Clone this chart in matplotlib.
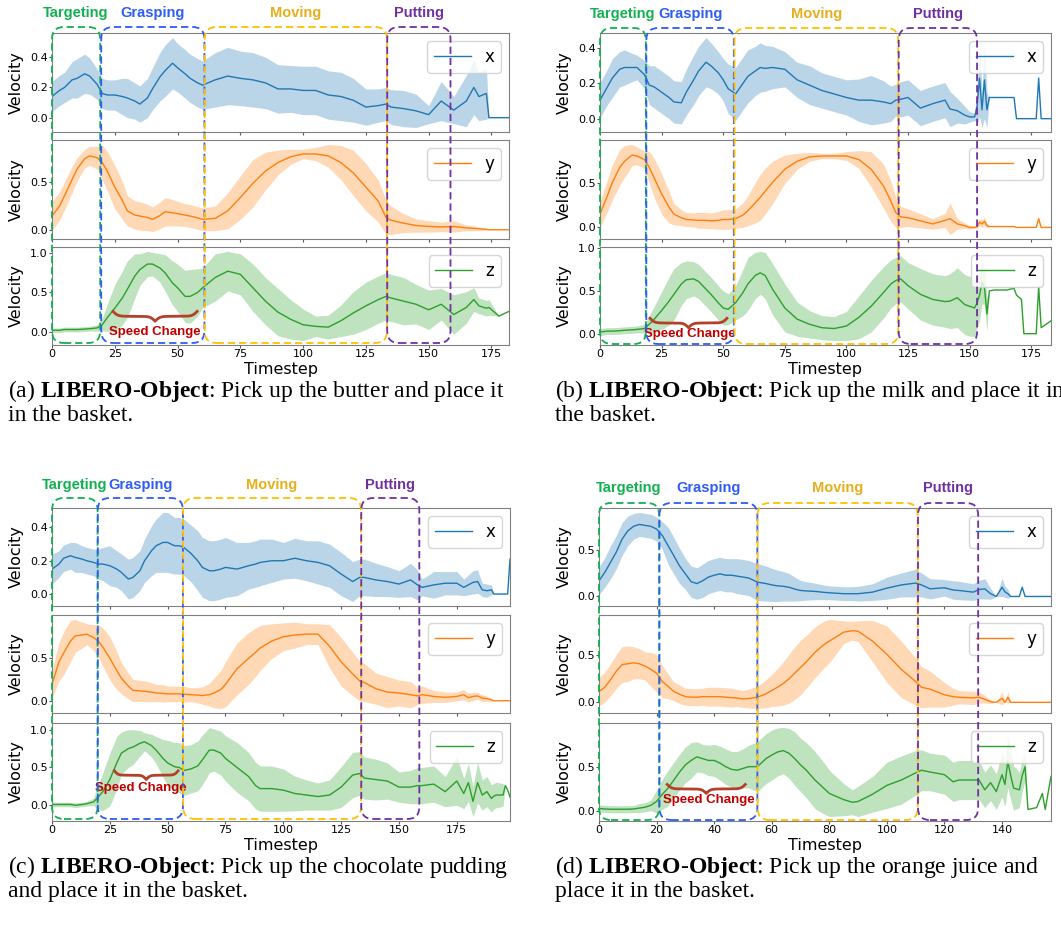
import matplotlib.pyplot as plt
import numpy as np
from matplotlib.patches import FancyBboxPatch

W, H = 1061, 930

# ---------------- (a) butter ----------------
t_a = [0, 3, 5, 8, 10, 13, 15, 18, 20, 22, 25, 28, 30, 33, 35, 38, 40, 43, 45, 48,
       50, 53, 55, 58, 60, 65, 70, 75, 80, 85, 90, 95, 100, 105, 110, 115, 120, 125, 130, 133,
       135, 140, 145, 150, 155, 160, 165, 168, 170, 173, 174, 178, 182]
x_mean_a = [0.14, 0.18, 0.20, 0.25, 0.26, 0.29, 0.275, 0.22, 0.16, 0.15,
            0.15, 0.14, 0.13, 0.11, 0.09, 0.13, 0.19, 0.27, 0.31, 0.36,
            0.33, 0.29, 0.26, 0.23, 0.215, 0.25, 0.275, 0.26, 0.25, 0.23,
            0.19, 0.19, 0.18, 0.18, 0.15, 0.14, 0.115, 0.07, 0.08, 0.09,
            0.07, 0.06, 0.045, 0.02, 0.11, 0.05, 0.11, 0.2, 0.14, 0.16, 0.0, 0.0, 0.0]
x_std_a = [0.1, 0.1, 0.1, 0.12, 0.13, 0.13, 0.12, 0.1, 0.1, 0.1,
           0.1, 0.12, 0.13, 0.12, 0.12, 0.13, 0.14, 0.16, 0.17, 0.17,
           0.16, 0.16, 0.16, 0.16, 0.16, 0.18, 0.19, 0.18, 0.18, 0.17,
           0.16, 0.155, 0.16, 0.16, 0.16, 0.16, 0.145, 0.12, 0.11, 0.11,
           0.115, 0.12, 0.11, 0.06, 0.13, 0.09, 0.17, 0.18, 0.16, 0.17, 0, 0, 0]
y_mean_a = [0.145, 0.25, 0.36, 0.53, 0.64, 0.75, 0.78, 0.76, 0.71, 0.62,
            0.45, 0.31, 0.2, 0.155, 0.145, 0.13, 0.11, 0.15, 0.19, 0.18,
            0.17, 0.155, 0.145, 0.125, 0.11, 0.12, 0.2, 0.34, 0.49, 0.62,
            0.71, 0.77, 0.8, 0.8, 0.78, 0.71, 0.6, 0.45, 0.3, 0.13,
            0.1, 0.07, 0.045, 0.035, 0.03, 0.035, 0.02, 0.015, 0.01, 0.005, 0, 0, 0]
y_std_a = [0.15, 0.15, 0.15, 0.14, 0.12, 0.1, 0.1, 0.12, 0.18, 0.21,
           0.23, 0.2, 0.16, 0.15, 0.15, 0.14, 0.13, 0.14, 0.15, 0.14,
           0.13, 0.12, 0.12, 0.12, 0.12, 0.13, 0.19, 0.23, 0.25, 0.2,
           0.13, 0.08, 0.05, 0.07, 0.12, 0.18, 0.24, 0.25, 0.22, 0.18,
           0.15, 0.1, 0.07, 0.06, 0.05, 0.06, 0.03, 0.025, 0.02, 0.01, 0, 0, 0]
z_mean_a = [0.02, 0.02, 0.03, 0.03, 0.03, 0.035, 0.04, 0.05, 0.09, 0.18,
            0.3, 0.43, 0.54, 0.71, 0.79, 0.86, 0.86, 0.81, 0.75, 0.62,
            0.56, 0.45, 0.45, 0.5, 0.56, 0.69, 0.77, 0.73, 0.56, 0.39,
            0.25, 0.16, 0.09, 0.07, 0.06, 0.14, 0.24, 0.33, 0.41, 0.45,
            0.43, 0.39, 0.35, 0.28, 0.35, 0.22, 0.31, 0.41, 0.33, 0.3, 0.31, 0.2, 0.26]
z_std_a = [0.03, 0.03, 0.03, 0.03, 0.03, 0.03, 0.03, 0.04, 0.08, 0.17,
           0.3, 0.34, 0.36, 0.28, 0.2, 0.16, 0.15, 0.18, 0.23, 0.28,
           0.3, 0.33, 0.34, 0.3, 0.25, 0.3, 0.25, 0.26, 0.3, 0.3,
           0.3, 0.25, 0.2, 0.13, 0.15, 0.2, 0.27, 0.3, 0.3, 0.3,
           0.3, 0.3, 0.25, 0.25, 0.2, 0.25, 0.2, 0.15, 0.1, 0.1, 0.1, 0, 0]
phases_a = [(0, 19.2), (19.6, 60.7), (60.8, 133.4), (133.5, 158.7)]

# ---------------- (b) milk ----------------
t_b = [0, 3, 5, 8, 10, 13, 15, 18, 20, 22, 25, 28, 30, 33, 35, 38, 40, 43, 45, 48,
       50, 52, 55, 58, 60, 63, 65, 67, 70, 75, 80, 85, 90, 95, 100, 105, 110, 115, 118, 120,
       122, 125, 130, 135, 140, 142, 145, 148, 150, 152, 153, 154, 155, 156, 157, 158, 160, 165, 168, 169,
       171, 172, 176, 177, 178, 179, 180, 183]
x_mean_b = [0.105, 0.18, 0.23, 0.28, 0.29, 0.29, 0.29, 0.25, 0.19, 0.18,
            0.15, 0.12, 0.095, 0.09, 0.15, 0.22, 0.27, 0.32, 0.3, 0.26,
            0.22, 0.17, 0.14, 0.2, 0.24, 0.27, 0.29, 0.285, 0.29, 0.28,
            0.22, 0.19, 0.16, 0.14, 0.12, 0.105, 0.105, 0.095, 0.085, 0.105,
            0.11, 0.12, 0.06, 0.085, 0.105, 0.055, 0.045, 0.02, 0.01, 0.01,
            0.07, 0.23, 0.05, 0.22, 0.05, 0.12, 0.12, 0.12, 0.12, 0.0,
            0.0, 0.0, 0.0, 0.0, 0.23, 0.0, 0.0, 0.0]
x_std_b = [0.1, 0.1, 0.11, 0.1, 0.1, 0.08, 0.07, 0.08, 0.11, 0.12,
           0.12, 0.12, 0.12, 0.12, 0.13, 0.14, 0.14, 0.14, 0.13, 0.12,
           0.12, 0.14, 0.15, 0.15, 0.15, 0.14, 0.14, 0.13, 0.12, 0.1,
           0.1, 0.11, 0.1, 0.1, 0.1, 0.12, 0.14, 0.12, 0.1, 0.09,
           0.1, 0.1, 0.1, 0.1, 0.1, 0.1, 0.07, 0.05, 0.03, 0.02,
           0.1, 0.22, 0.1, 0.22, 0.1, 0, 0, 0, 0, 0,
           0, 0, 0, 0, 0, 0, 0, 0]
y_mean_b = [0.15, 0.36, 0.51, 0.68, 0.75, 0.82, 0.81, 0.77, 0.68, 0.56,
            0.38, 0.23, 0.15, 0.11, 0.09, 0.085, 0.08, 0.08, 0.075, 0.08,
            0.09, 0.09, 0.1, 0.14, 0.19, 0.28, 0.34, 0.41, 0.51, 0.66,
            0.75, 0.8, 0.81, 0.81, 0.81, 0.77, 0.66, 0.47, 0.3, 0.17,
            0.12, 0.11, 0.075, 0.04, 0.08, 0.1, 0.04, 0.02, 0.0, 0.0,
            0.01, 0.06, 0.04, 0.07, 0.02, 0.01, 0.01, 0.01, 0.01, 0.0,
            0.0, 0.0, 0.0, 0.0, 0.1, 0.0, 0.0, 0.0]
y_std_b = [0.15, 0.18, 0.2, 0.2, 0.18, 0.12, 0.1, 0.1, 0.18, 0.22,
           0.23, 0.18, 0.12, 0.09, 0.08, 0.08, 0.09, 0.09, 0.09, 0.1,
           0.11, 0.11, 0.11, 0.14, 0.17, 0.23, 0.26, 0.26, 0.24, 0.16,
           0.09, 0.05, 0.03, 0.03, 0.05, 0.1, 0.2, 0.25, 0.23, 0.17,
           0.12, 0.1, 0.08, 0.06, 0.08, 0.18, 0.06, 0.03, 0.02, 0.01,
           0.02, 0.04, 0.04, 0.05, 0.03, 0, 0, 0, 0, 0,
           0, 0, 0, 0, 0, 0, 0, 0]
z_mean_b = [0.02, 0.03, 0.03, 0.035, 0.04, 0.045, 0.05, 0.06, 0.11, 0.17,
            0.27, 0.38, 0.46, 0.58, 0.63, 0.64, 0.61, 0.52, 0.46, 0.36,
            0.3, 0.285, 0.36, 0.48, 0.58, 0.68, 0.71, 0.68, 0.52, 0.3,
            0.17, 0.11, 0.07, 0.06, 0.09, 0.19, 0.32, 0.48, 0.58, 0.62,
            0.64, 0.56, 0.46, 0.4, 0.375, 0.38, 0.42, 0.34, 0.32, 0.3,
            0.36, 0.45, 0.6, 0.54, 0.23, 0.5, 0.51, 0.51, 0.53, 0.45,
            0.4, 0.0, 0.0, 0.0, 0.55, 0.07, 0.09, 0.15]
z_std_b = [0.04, 0.04, 0.04, 0.04, 0.04, 0.04, 0.04, 0.05, 0.1, 0.15,
           0.22, 0.28, 0.3, 0.25, 0.22, 0.2, 0.2, 0.2, 0.2, 0.2,
           0.2, 0.18, 0.2, 0.27, 0.31, 0.27, 0.25, 0.27, 0.3, 0.28,
           0.2, 0.16, 0.14, 0.14, 0.17, 0.25, 0.3, 0.3, 0.28, 0.27,
           0.27, 0.27, 0.3, 0.3, 0.3, 0.32, 0.35, 0.35, 0.35, 0.33,
           0.3, 0.3, 0.25, 0.2, 0.2, 0, 0, 0, 0, 0,
           0, 0, 0, 0, 0, 0, 0, 0]
phases_b = [(0, 18.6), (18.8, 54.3), (54.6, 121.0), (121.2, 153.0)]

# ---------------- (c) chocolate pudding ----------------
t_c = [0, 3, 5, 8, 10, 13, 15, 18, 20, 22, 25, 28, 30, 33, 35, 38, 40, 43, 45, 48,
       50, 53, 55, 57, 60, 63, 65, 68, 70, 73, 75, 80, 85, 88, 90, 95, 100, 105, 110, 115,
       120, 125, 130, 133, 135, 140, 145, 150, 155, 158, 160, 165, 170, 175, 178, 180, 182, 184, 186, 188,
       190, 191, 192, 195, 196, 197, 198]
x_mean_c = [0.15, 0.18, 0.215, 0.23, 0.22, 0.21, 0.2, 0.19, 0.18, 0.18,
            0.17, 0.15, 0.13, 0.09, 0.1, 0.14, 0.2, 0.26, 0.29, 0.31,
            0.31, 0.29, 0.29, 0.28, 0.245, 0.2, 0.16, 0.14, 0.14, 0.15,
            0.16, 0.15, 0.17, 0.18, 0.19, 0.2, 0.2, 0.215, 0.2, 0.19,
            0.17, 0.12, 0.075, 0.1, 0.1, 0.085, 0.075, 0.06, 0.085, 0.055,
            0.04, 0.055, 0.065, 0.065, 0.04, 0.055, 0.07, 0.075, 0.025, 0.02,
            0.025, 0.0, 0.0, 0.0, 0.0, 0.0, 0.21]
x_std_c = [0.09, 0.08, 0.08, 0.08, 0.09, 0.08, 0.08, 0.08, 0.09, 0.1,
           0.12, 0.11, 0.11, 0.12, 0.12, 0.12, 0.13, 0.15, 0.16, 0.18,
           0.18, 0.17, 0.17, 0.17, 0.17, 0.18, 0.18, 0.18, 0.18, 0.18,
           0.18, 0.16, 0.14, 0.14, 0.14, 0.13, 0.11, 0.12, 0.12, 0.13,
           0.13, 0.13, 0.12, 0.11, 0.11, 0.1, 0.09, 0.08, 0.1, 0.09,
           0.05, 0.08, 0.07, 0.07, 0.05, 0.06, 0.07, 0.07, 0.04, 0.04,
           0.03, 0, 0, 0, 0, 0, 0]
y_mean_c = [0.19, 0.45, 0.55, 0.69, 0.75, 0.76, 0.77, 0.73, 0.69, 0.62,
            0.49, 0.35, 0.26, 0.17, 0.12, 0.115, 0.11, 0.1, 0.09, 0.085,
            0.08, 0.08, 0.08, 0.075, 0.07, 0.065, 0.06, 0.07, 0.09, 0.13,
            0.19, 0.37, 0.49, 0.56, 0.61, 0.69, 0.74, 0.76, 0.77, 0.77,
            0.63, 0.45, 0.31, 0.23, 0.21, 0.14, 0.1, 0.09, 0.07, 0.056,
            0.07, 0.05, 0.04, 0.05, 0.07, 0.035, 0.05, 0.056, 0.03, 0.025,
            0.01, 0, 0, 0, 0, 0, 0]
y_std_c = [0.16, 0.22, 0.25, 0.24, 0.19, 0.15, 0.12, 0.15, 0.19, 0.22,
           0.25, 0.22, 0.18, 0.15, 0.13, 0.12, 0.12, 0.11, 0.1, 0.1,
           0.09, 0.09, 0.09, 0.09, 0.08, 0.09, 0.1, 0.13, 0.17, 0.22,
           0.26, 0.3, 0.3, 0.28, 0.26, 0.2, 0.16, 0.15, 0.12, 0.12,
           0.25, 0.28, 0.25, 0.23, 0.22, 0.18, 0.18, 0.15, 0.15, 0.1,
           0.1, 0.07, 0.06, 0.05, 0.06, 0.05, 0.05, 0.04, 0.04, 0.03,
           0.02, 0, 0, 0, 0, 0, 0]
z_mean_c = [0.01, 0.01, 0.01, 0.01, 0.0, 0.01, 0.02, 0.045, 0.11, 0.18,
            0.34, 0.56, 0.69, 0.75, 0.77, 0.82, 0.84, 0.79, 0.73, 0.62,
            0.56, 0.51, 0.5, 0.46, 0.48, 0.52, 0.6, 0.73, 0.73, 0.69,
            0.62, 0.5, 0.38, 0.26, 0.22, 0.22, 0.2, 0.155, 0.135, 0.115,
            0.135, 0.24, 0.4, 0.42, 0.36, 0.34, 0.32, 0.24, 0.24, 0.26,
            0.26, 0.28, 0.18, 0.32, 0.155, 0.3, 0.05, 0.3, 0.135, 0.18,
            0.09, 0.12, 0.135, 0.135, 0.26, 0.2, 0.11]
z_std_c = [0.03, 0.03, 0.03, 0.03, 0.03, 0.03, 0.03, 0.05, 0.17, 0.25,
           0.35, 0.35, 0.28, 0.25, 0.23, 0.17, 0.12, 0.15, 0.18, 0.25,
           0.3, 0.32, 0.33, 0.33, 0.32, 0.33, 0.33, 0.3, 0.28, 0.29,
           0.3, 0.33, 0.32, 0.31, 0.3, 0.3, 0.28, 0.23, 0.2, 0.18,
           0.2, 0.27, 0.3, 0.29, 0.28, 0.27, 0.24, 0.2, 0.22, 0.24,
           0.24, 0.24, 0.2, 0.32, 0.2, 0.25, 0.2, 0.27, 0.2, 0.2,
           0.18, 0.17, 0.17, 0.15, 0, 0, 0]
phases_c = [(0, 19.7), (19.8, 56.6), (56.7, 133.6), (133.7, 158.8)]

# ---------------- (d) orange juice ----------------
t_d = [0, 2, 4, 6, 8, 10, 12, 14, 16, 18, 20, 22, 24, 26, 28, 30, 32, 34, 36, 38,
       40, 42, 44, 46, 48, 50, 52, 55, 58, 60, 62, 64, 66, 68, 70, 72, 75, 78, 80, 85,
       88, 90, 95, 100, 105, 110, 112, 115, 120, 123, 125, 130, 132, 134, 136, 138, 140, 141, 142, 143,
       144, 146, 147, 148, 149, 152, 154, 155, 157]
x_mean_d = [0.17, 0.26, 0.37, 0.48, 0.62, 0.71, 0.76, 0.78, 0.77, 0.76,
            0.73, 0.66, 0.55, 0.44, 0.33, 0.245, 0.16, 0.14, 0.17, 0.21,
            0.23, 0.245, 0.23, 0.23, 0.22, 0.21, 0.2, 0.155, 0.14, 0.125,
            0.115, 0.11, 0.1, 0.08, 0.065, 0.06, 0.055, 0.045, 0.04, 0.03,
            0.03, 0.03, 0.047, 0.09, 0.125, 0.145, 0.125, 0.083, 0.094, 0.07,
            0.065, 0.047, 0.075, 0.083, 0.03, 0.0, 0.1, 0.05, 0.03, 0.0,
            0.0, 0.0, 0.1, 0.0, 0.0, 0.0, 0.0, 0.0, 0.0]
x_std_d = [0.15, 0.16, 0.18, 0.18, 0.18, 0.16, 0.14, 0.13, 0.13, 0.13,
           0.13, 0.15, 0.2, 0.2, 0.19, 0.17, 0.17, 0.17, 0.18, 0.18,
           0.18, 0.18, 0.18, 0.18, 0.19, 0.19, 0.19, 0.2, 0.19, 0.18,
           0.17, 0.16, 0.15, 0.13, 0.11, 0.1, 0.09, 0.08, 0.075, 0.075,
           0.075, 0.08, 0.09, 0.12, 0.13, 0.15, 0.13, 0.11, 0.09, 0.1,
           0.1, 0.09, 0.1, 0.11, 0.06, 0.0, 0.1, 0.06, 0.05, 0.0,
           0, 0, 0, 0, 0, 0, 0, 0, 0]
y_mean_d = [0.115, 0.16, 0.24, 0.33, 0.4, 0.41, 0.42, 0.41, 0.385, 0.35,
            0.31, 0.22, 0.17, 0.115, 0.086, 0.06, 0.055, 0.054, 0.06, 0.06,
            0.06, 0.06, 0.055, 0.05, 0.045, 0.036, 0.04, 0.054, 0.09, 0.126,
            0.16, 0.2, 0.25, 0.31, 0.37, 0.43, 0.53, 0.61, 0.65, 0.745,
            0.76, 0.755, 0.65, 0.51, 0.35, 0.22, 0.16, 0.14, 0.08, 0.06,
            0.054, 0.047, 0.054, 0.032, 0.007, 0.0, 0.043, 0.0, 0.054, 0.0,
            0, 0, 0, 0, 0, 0, 0, 0, 0]
y_std_d = [0.15, 0.16, 0.17, 0.18, 0.19, 0.19, 0.17, 0.16, 0.15, 0.18,
           0.2, 0.17, 0.13, 0.1, 0.1, 0.09, 0.09, 0.09, 0.09, 0.1,
           0.1, 0.1, 0.1, 0.1, 0.09, 0.09, 0.1, 0.12, 0.15, 0.17,
           0.2, 0.23, 0.26, 0.28, 0.29, 0.28, 0.27, 0.25, 0.23, 0.12,
           0.1, 0.11, 0.22, 0.3, 0.3, 0.25, 0.22, 0.19, 0.13, 0.09,
           0.07, 0.07, 0.06, 0.04, 0.02, 0.0, 0.07, 0.0, 0.06, 0.0,
           0, 0, 0, 0, 0, 0, 0, 0, 0]
z_mean_d = [0.03, 0.025, 0.022, 0.022, 0.022, 0.022, 0.025, 0.035, 0.045, 0.066,
            0.11, 0.19, 0.26, 0.35, 0.44, 0.52, 0.57, 0.61, 0.59, 0.57,
            0.57, 0.54, 0.5, 0.47, 0.46, 0.48, 0.5, 0.5, 0.59, 0.63,
            0.665, 0.68, 0.65, 0.59, 0.52, 0.46, 0.35, 0.26, 0.2, 0.13,
            0.1, 0.11, 0.19, 0.29, 0.35, 0.43, 0.46, 0.44, 0.41, 0.33,
            0.35, 0.35, 0.35, 0.24, 0.32, 0.22, 0.41, 0.3, 0.56, 0.4,
            0.26, 0.24, 0.4, 0.5, 0.02, 0.04, 0.2, 0.02, 0.39]
z_std_d = [0.04, 0.04, 0.04, 0.04, 0.04, 0.04, 0.04, 0.05, 0.05, 0.06,
           0.13, 0.17, 0.2, 0.2, 0.2, 0.2, 0.2, 0.17, 0.16, 0.17,
           0.18, 0.19, 0.2, 0.2, 0.21, 0.22, 0.24, 0.28, 0.28, 0.28,
           0.27, 0.26, 0.28, 0.3, 0.3, 0.31, 0.32, 0.29, 0.26, 0.18,
           0.14, 0.17, 0.2, 0.26, 0.27, 0.25, 0.23, 0.21, 0.22, 0.22,
           0.22, 0.22, 0.22, 0.2, 0.2, 0.2, 0.25, 0.25, 0.3, 0.27,
           0.25, 0.2, 0.18, 0.15, 0, 0, 0, 0, 0]
phases_d = [(0, 20.9), (21.0, 55.0), (55.1, 110.7), (110.8, 131.7)]

phase_names = ['Targeting', 'Grasping', 'Moving', 'Putting']
phase_text_colors = ['#12b050', '#2f5cf5', '#e8ae1c', '#7030a0']
phase_box_colors = ['#12b050', '#2f5cf5', '#ffc000', '#7030a0']
axis_names = ['x', 'y', 'z']
line_colors = ['#1f77b4', '#ff7f0e', '#2ca02c']

captions = [
    (r'(a) $\mathbf{LIBERO}$-$\mathbf{Object}$: Pick up the butter and place it', 'in the basket.'),
    (r'(b) $\mathbf{LIBERO}$-$\mathbf{Object}$: Pick up the milk and place it in', 'the basket.'),
    (r'(c) $\mathbf{LIBERO}$-$\mathbf{Object}$: Pick up the chocolate pudding', 'and place it in the basket.'),
    (r'(d) $\mathbf{LIBERO}$-$\mathbf{Object}$: Pick up the orange juice and', 'place it in the basket.'),
]

# pixel layout: left, right, rows (top, bottom), box top/bottom, label y,
# brace (t0, t1, ytop, height), speed-change text (t, y), caption x, caption baselines
panels = [
    dict(t=t_a, data=[(x_mean_a, x_std_a), (y_mean_a, y_std_a), (z_mean_a, z_std_a)], phases=phases_a,
         left=52, right=509, rows=[(33, 132), (140, 239), (247, 345)], box=(27, 343), label_y=13,
         brace=(24.3, 57.8, 0.26, 0.125), sc=(41, 0.0), cap_x=8, cap_y=(397, 421)),
    dict(t=t_b, data=[(x_mean_b, x_std_b), (y_mean_b, y_std_b), (z_mean_b, z_std_b)], phases=phases_b,
         left=600, right=1051, rows=[(33, 132), (140, 239), (247, 345)], box=(28, 344), label_y=14,
         brace=(20.3, 51.5, 0.18, 0.11), sc=(36.5, 0.0), cap_x=555, cap_y=(397, 421)),
    dict(t=t_c, data=[(x_mean_c, x_std_c), (y_mean_c, y_std_c), (z_mean_c, z_std_c)], phases=phases_c,
         left=52, right=510, rows=[(508, 606), (615, 713), (723, 821)], box=(498, 819), label_y=485,
         brace=(27, 54.5, 0.455, 0.115), sc=(38.4, 0.23), cap_x=8, cap_y=(873, 897)),
    dict(t=t_d, data=[(x_mean_d, x_std_d), (y_mean_d, y_std_d), (z_mean_d, z_std_d)], phases=phases_d,
         left=599, right=1051, rows=[(508, 606), (615, 713), (723, 821)], box=(503, 820), label_y=488,
         brace=(23.7, 50.8, 0.3, 0.1), sc=(38.2, 0.125), cap_x=555, cap_y=(873, 897)),
]

plt.rcParams['mathtext.fontset'] = 'custom'
plt.rcParams['mathtext.rm'] = 'Liberation Serif'
plt.rcParams['mathtext.bf'] = 'Liberation Serif:bold'

fig = plt.figure(figsize=(W / 100, H / 100), dpi=100)


def draw_brace(ax, t0, t1, ytop, h, color):
    u = np.linspace(0, 0.5, 120)
    beta = 35
    s = 1 / (1 + np.exp(-beta * (u - u[0]))) + 1 / (1 + np.exp(-beta * (u - u[-1]))) - 0.5
    s = np.concatenate([s, s[-2::-1]])
    xs = np.linspace(t0, t1, len(s))
    ax.plot(xs, ytop - h * s, color=color, lw=2, clip_on=False, zorder=6)


for p in panels:
    t = np.array(p['t'], dtype=float)
    axes = []
    for k, (top, bot) in enumerate(p['rows']):
        rect = [p['left'] / W, 1 - bot / H, (p['right'] - p['left']) / W, (bot - top) / H]
        ax = fig.add_axes(rect, sharex=axes[0] if axes else None)
        m = np.array(p['data'][k][0])
        s = np.array(p['data'][k][1])
        ax.plot(t, m, color=line_colors[k], lw=1.0, label=axis_names[k])
        ax.fill_between(t, m - s, m + s, color=line_colors[k], alpha=0.3, lw=0)
        ax.set_xlim(0, t[-1])
        ax.set_ylabel('Velocity', fontsize=11.5)
        ax.tick_params(labelsize=8, length=2, pad=1.2, color='0.35')
        for sp in ax.spines.values():
            sp.set_color('0.5')
        ax.legend(loc='upper right', fontsize=12, handlelength=2.2)
        if k < 2:
            ax.tick_params(labelbottom=False)
        axes.append(ax)
    axes[-1].set_xlabel('Timestep', fontsize=11.5, labelpad=2)
    fig.align_ylabels(axes)

    # speed change marker on the z plot
    b0, b1, by, bh = p['brace']
    draw_brace(axes[2], b0, b1, by, bh, '#b5402a')
    axes[2].text(p['sc'][0], p['sc'][1], 'Speed Change', ha='center', va='center', fontsize=9.5,
                 fontweight='bold', color='#c00000', family='Liberation Sans', zorder=7)

    # dashed phase boxes spanning the three plots
    inv = fig.transFigure.inverted()
    btop, bbot = 1 - p['box'][0] / H, 1 - p['box'][1] / H
    for j, (s0, s1) in enumerate(p['phases']):
        fx0 = inv.transform(axes[0].transData.transform((s0, 0)))[0]
        fx1 = inv.transform(axes[0].transData.transform((s1, 0)))[0]
        box = FancyBboxPatch((fx0, bbot), fx1 - fx0, btop - bbot,
                             boxstyle='round,pad=0,rounding_size=%f' % (12 / W),
                             mutation_aspect=W / H, transform=fig.transFigure,
                             fill=False, edgecolor=phase_box_colors[j], lw=1.3,
                             linestyle=(0, (4, 2.2)), zorder=20)
        fig.add_artist(box)
        fig.text((fx0 + fx1) / 2, 1 - p['label_y'] / H, phase_names[j], ha='center', va='center',
                 fontsize=10.5, fontweight='bold', color=phase_text_colors[j], family='Liberation Sans')

for p, cap in zip(panels, captions):
    fig.text(p['cap_x'] / W, 1 - p['cap_y'][0] / H, cap[0], fontsize=17, family='Liberation Serif',
             va='baseline')
    fig.text(p['cap_x'] / W, 1 - p['cap_y'][1] / H, cap[1], fontsize=17, family='Liberation Serif',
             va='baseline')

fig.savefig('out.png', dpi=100)
